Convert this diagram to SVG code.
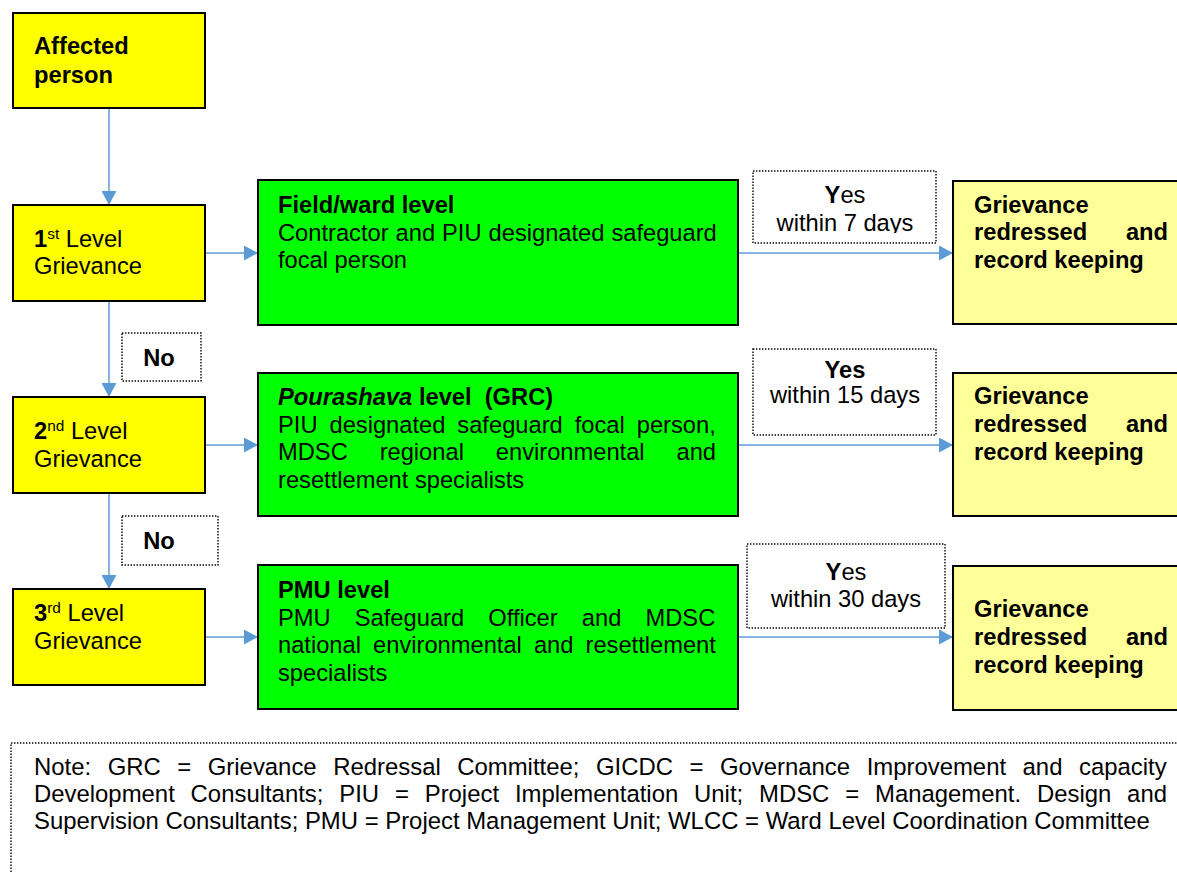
<svg xmlns="http://www.w3.org/2000/svg" width="1177" height="872" viewBox="0 0 1177 872">
<style>
.box{stroke:#000;stroke-width:2}
.yel{fill:#FFFF00}
.grn{fill:#00FF00}
.lyel{fill:#FFFF99}
.dot{fill:none;stroke:#000;stroke-width:1.4;stroke-dasharray:1.4 1.6}
.t{font-family:"Liberation Sans",Arial,sans-serif;font-size:23.7px;fill:#000}
.n{font-family:"Liberation Sans",Arial,sans-serif;font-size:23.9px;fill:#000}
.b{font-weight:bold}
.m{text-anchor:middle}
.e{text-anchor:end}
.conn{stroke:#5B9BD5;stroke-width:1.5;fill:none;marker-end:url(#arr)}
</style>
<defs>
<marker id="arr" markerUnits="userSpaceOnUse" markerWidth="14" markerHeight="15" refX="14" refY="7.5" orient="auto">
<path d="M0,0 L14,7.5 L0,15 Z" fill="#5B9BD5"/>
</marker>
<clipPath id="clipY1"><rect x="753" y="171" width="183" height="62"/></clipPath>
</defs>
<rect width="1177" height="872" fill="#fff"/>

<g id="connectors">
<line class="conn" x1="109" y1="108" x2="109" y2="205"/>
<line class="conn" x1="109" y1="301" x2="109" y2="397"/>
<line class="conn" x1="109" y1="493" x2="109" y2="589"/>
<line class="conn" x1="205" y1="253" x2="258" y2="253"/>
<line class="conn" x1="205" y1="445" x2="258" y2="445"/>
<line class="conn" x1="205" y1="637" x2="258" y2="637"/>
<line class="conn" x1="738" y1="253" x2="953" y2="253"/>
<line class="conn" x1="738" y1="445" x2="953" y2="445"/>
<line class="conn" x1="738" y1="637" x2="953" y2="637"/>
</g>

<g id="affected">
<rect class="box yel" x="13" y="13" width="192" height="95"/>
<text class="t b" x="34" y="54">Affected</text>
<text class="t b" x="34" y="82.5">person</text>
</g>

<g id="level1">
<rect class="box yel" x="13" y="205" width="192" height="96"/>
<text class="t" x="34" y="246.5"><tspan class="b">1</tspan><tspan dy="-8" font-size="15.4">st</tspan><tspan dy="8"> Level</tspan></text>
<text class="t" x="34" y="274">Grievance</text>
</g>

<g id="level2">
<rect class="box yel" x="13" y="397" width="192" height="96"/>
<text class="t" x="34" y="439"><tspan class="b">2</tspan><tspan dy="-8" font-size="15.4">nd</tspan><tspan dy="8"> Level</tspan></text>
<text class="t" x="34" y="466.5">Grievance</text>
</g>

<g id="level3">
<rect class="box yel" x="13" y="589" width="192" height="96"/>
<text class="t" x="34" y="621"><tspan class="b">3</tspan><tspan dy="-8" font-size="15.4">rd</tspan><tspan dy="8"> Level</tspan></text>
<text class="t" x="34" y="649">Grievance</text>
</g>

<g id="no1">
<rect class="dot" x="122" y="333" width="79" height="48"/>
<text class="t b m" x="159" y="366">No</text>
</g>

<g id="no2">
<rect class="dot" x="122" y="516" width="96" height="49"/>
<text class="t b m" x="159" y="549">No</text>
</g>

<g id="field">
<rect class="box grn" x="258" y="180" width="480" height="145"/>
<text class="t b" x="278" y="213">Field/ward level</text>
<text class="t" x="278" y="240.5" style="word-spacing:0.4px">Contractor and PIU designated safeguard</text>
<text class="t" x="278" y="268">focal person</text>
</g>

<g id="pourashava">
<rect class="box grn" x="258" y="373" width="480" height="143"/>
<text class="t b" x="278" y="405" style="white-space:pre"><tspan font-style="italic">Pourashava</tspan> level  (GRC)</text>
<text class="t" x="278" y="432.5" style="word-spacing:5.4px">PIU designated safeguard focal person,</text>
<text class="t" x="278" y="460" style="word-spacing:25.3px">MDSC regional environmental and</text>
<text class="t" x="278" y="487.5">resettlement specialists</text>
</g>

<g id="pmu">
<rect class="box grn" x="258" y="565" width="480" height="144"/>
<text class="t b" x="278" y="598">PMU level</text>
<text class="t" x="278" y="625.5" style="word-spacing:17.6px">PMU Safeguard Officer and MDSC</text>
<text class="t" x="278" y="653" style="word-spacing:5.5px">national environmental and resettlement</text>
<text class="t" x="278" y="680.5">specialists</text>
</g>

<g id="yes1">
<rect class="dot" x="753" y="171" width="183" height="72"/>
<g clip-path="url(#clipY1)">
<text class="t m" x="845" y="203"><tspan class="b">Y</tspan>es</text>
<text class="t m" x="845" y="230.5">within 7 days</text>
</g>
</g>

<g id="yes2">
<rect class="dot" x="753" y="349" width="183" height="86"/>
<text class="t b m" x="845" y="378">Yes</text>
<text class="t m" x="845" y="403">within 15 days</text>
</g>

<g id="yes3">
<rect class="dot" x="747" y="544" width="198" height="84"/>
<text class="t m" x="846" y="580"><tspan class="b">Y</tspan>es</text>
<text class="t m" x="846" y="607">within 30 days</text>
</g>

<g id="redress1">
<rect class="box lyel" x="953" y="181" width="240" height="143"/>
<text class="t b" x="974" y="213">Grievance</text>
<text class="t b" x="974" y="240">redressed</text>
<text class="t b e" x="1168" y="240">and</text>
<text class="t b" x="974" y="268">record keeping</text>
</g>

<g id="redress2">
<rect class="box lyel" x="953" y="373" width="240" height="143"/>
<text class="t b" x="974" y="404">Grievance</text>
<text class="t b" x="974" y="432">redressed</text>
<text class="t b e" x="1168" y="432">and</text>
<text class="t b" x="974" y="460">record keeping</text>
</g>

<g id="redress3">
<rect class="box lyel" x="953" y="566" width="240" height="144"/>
<text class="t b" x="974" y="617">Grievance</text>
<text class="t b" x="974" y="645">redressed</text>
<text class="t b e" x="1168" y="645">and</text>
<text class="t b" x="974" y="673">record keeping</text>
</g>

<g id="note">
<rect class="dot" x="11" y="743" width="1180" height="140"/>
<text class="n" x="34" y="775" style="word-spacing:9.9px">Note: GRC = Grievance Redressal Committee; GICDC = Governance Improvement and capacity</text>
<text class="n" x="34" y="802" style="word-spacing:9.2px">Development Consultants; PIU = Project Implementation Unit; MDSC = Management. Design and</text>
<text class="n" x="34" y="829">Supervision Consultants; PMU = Project Management Unit; WLCC = Ward Level Coordination Committee</text>
</g>
</svg>
